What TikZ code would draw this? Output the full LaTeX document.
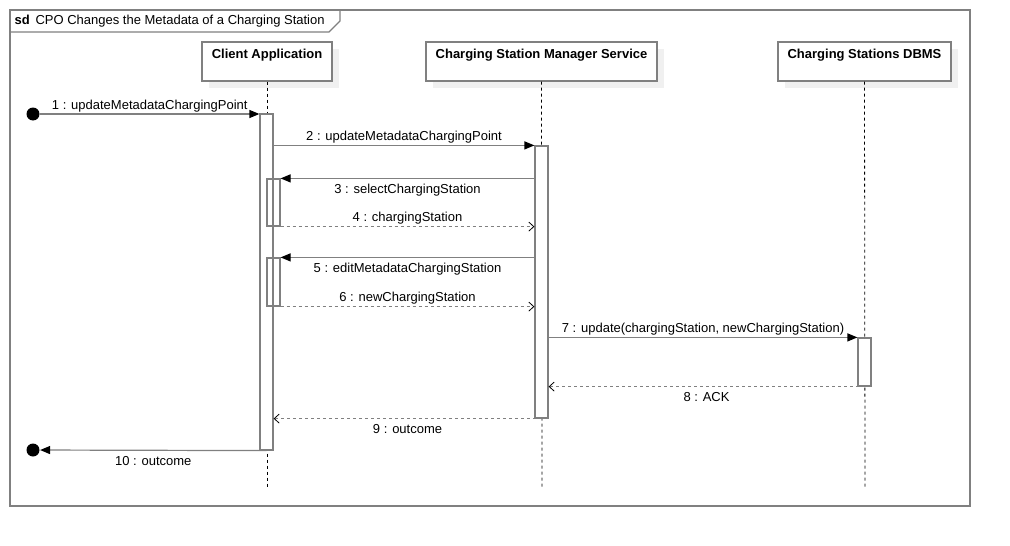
\documentclass[tikz,border=0pt]{standalone}
\usepackage{fontspec}
\setmainfont{Liberation Sans}
\usetikzlibrary{arrows.meta,shadows}

\begin{document}
\begin{tikzpicture}[x=1pt,y=-1pt,line width=1.2pt,
  font=\fontsize{13}{15}\selectfont,
  head/.style={rectangle,draw=gray,fill=white,minimum width=#1,minimum height=39pt,
    inner ysep=3pt,text height=13pt,text depth=20pt,font=\fontsize{13}{15}\selectfont\bfseries,
    drop shadow={shadow xshift=7pt,shadow yshift=-7pt,fill=black!6,opacity=1}},
  act/.style={rectangle,draw=gray,fill=white,minimum width=13pt,minimum height=#1,inner sep=0pt},
  life/.style={draw=black,line width=0.8pt,dash pattern=on 3pt off 3pt},
  call/.style={draw=gray,-{Triangle[length=10pt,width=8pt,color=black]}},
  back/.style={draw=gray,dash pattern=on 3pt off 3pt,-{Straight Barb[length=5pt,width=9pt,color=black,line width=0.8pt]}},
  lbl/.style={midway,yshift=-2pt},
  dot/.style={circle,fill=black,minimum size=13pt,inner sep=0pt}]
\useasboundingbox (0,0) rectangle (1010,546);
\draw[gray] (10,10) rectangle (970,506);
\draw[gray] (10,10) -- (340,10) -- (340,21) -- (329,32) -- (10,32);
\node[anchor=west,inner sep=0pt] (title) at (14,21) {\textbf{sd}\, CPO Changes the Metadata of a Charging Station};
\node[head=130pt] (ca) at (267,61.5) {Client Application};
\node[head=231pt] (csms) at (541.5,61.5) {Charging Station Manager Service};
\node[head=173pt] (dbms) at (864.5,61.5) {Charging Stations DBMS};
\coordinate (caend) at (267,487);
\coordinate (csmsend) at (542,487);
\coordinate (dbmsend) at (865,487);
\draw[life] (ca.south) -- (caend);
\draw[life] (csms.south) -- (csmsend);
\draw[life] (dbms.south) -- (dbmsend);
\node[act=336pt] (actA) at (266.5,282) {};
\node[act=47pt,fill=none] (actA2) at (273.5,202.5) {};
\node[act=48pt,fill=none] (actA3) at (273.5,282) {};
\node[act=272pt] (actB) at (541.5,282) {};
\node[act=48pt] (actC) at (864.5,362) {};
\node[dot] (start) at (33,114) {};
\node[dot] (stop) at (33,450) {};
\draw[call] (start) -- (start -| actA.west) node[lbl,above] {1 : updateMetadataChargingPoint};
\draw[call] (actB.north west -| actA.east) -- (actB.north west) node[lbl,above] {2 : updateMetadataChargingPoint};
\draw[call] (actA2.north east -| actB.west) -- (actA2.north east) node[lbl,below] {3 : selectChargingStation};
\draw[back] (actA2.south east) -- (actA2.south east -| actB.west) node[lbl,above] {4 : chargingStation};
\draw[call] (actA3.north east -| actB.west) -- (actA3.north east) node[lbl,below] {5 : editMetadataChargingStation};
\draw[back] (actA3.south east) -- (actA3.south east -| actB.west) node[lbl,above] {6 : newChargingStation};
\draw[call] (actC.north west -| actB.east) -- (actC.north west) node[lbl,above] {7 : update(chargingStation, newChargingStation)};
\draw[back] (actC.south) -- (actC.south -| actB.east) node[lbl,below] {8 : ACK};
\draw[back] (actB.south) -- (actB.south -| actA.east) node[lbl,below] {9 : outcome};
\draw[call] (actA.south) -- (stop) node[lbl,below] {10 : outcome};
\end{tikzpicture}
\end{document}
